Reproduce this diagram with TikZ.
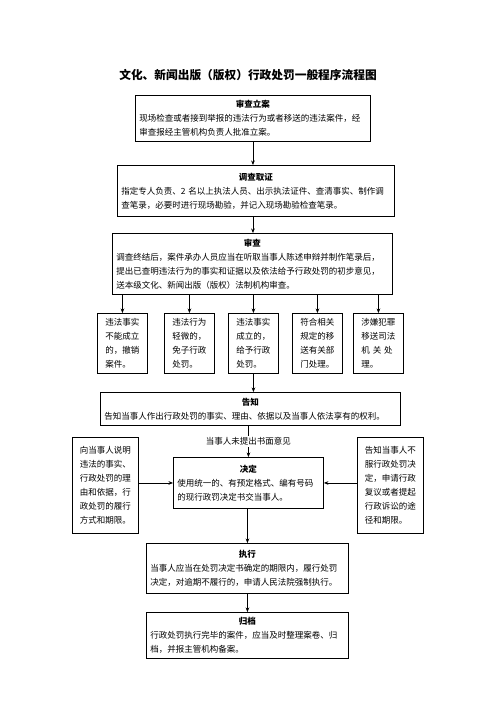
\documentclass[tikz,border=0pt]{standalone}
\usepackage{fontspec}
\setmainfont{Noto Sans CJK SC}
\usetikzlibrary{arrows.meta}

\tikzset{
  box/.style={draw, line width=0.9pt, anchor=north west, inner xsep=4pt, inner ysep=2pt,
    align=left, font=\fontsize{8.5}{14}\selectfont},
  narrow/.style={box, text width=34pt, inner xsep=8pt, minimum height=60pt},
  side/.style={box, text width=51pt, inner xsep=7.5pt, minimum height=96pt},
  flow/.style={-{Stealth[length=4.5pt,width=3.6pt]}, line width=0.6pt},
}
\newcommand{\hd}[1]{\makebox[\hsize]{\bfseries #1}}

\begin{document}
\begin{tikzpicture}[x=1pt,y=-1pt]
  \useasboundingbox (0,0) rectangle (496,702);

  % Title
  \node[font=\fontsize{11.7}{14}\selectfont\bfseries] (title) at (248,75)
    {文化、新闻出版（版权）行政处罚一般程序流程图};

  % Main stages
  \node[box, text width=227pt, minimum height=46pt] (lian) at (135,95)
    {\hd{审查立案}\\现场检查或者接到举报的违法行为或者移送的违法案件，经\\审查报经主管机构负责人批准立案。};
  \node[box, text width=269pt, minimum height=51pt] (diaocha) at (117,165)
    {\hd{调查取证}\\指定专人负责、2 名以上执法人员、出示执法证件、查清事实、制作调\\查笔录，必要时进行现场勘验，并记入现场勘验检查笔录。};
  \node[box, text width=272pt, minimum height=61pt] (shencha) at (112,233)
    {\hd{审查}\\调查终结后，案件承办人员应当在听取当事人陈述申辩并制作笔录后，\\提出已查明违法行为的事实和证据以及依法给予行政处罚的初步意见，\\送本级文化、新闻出版（版权）法制机构审查。};

  % Five outcomes
  \node[narrow] (ra) at (97,313)  {违法事实\\不能成立\\的，撤销\\案件。};
  \node[narrow] (rb) at (164,313) {违法行为\\轻微的，\\免子行政\\处罚。};
  \node[narrow] (rc) at (228,313) {违法事实\\成立的，\\给予行政\\处罚。};
  \node[narrow] (rd) at (292,313) {符合相关\\规定的移\\送有关部\\门处理。};
  \node[narrow] (re) at (353,313) {涉嫌犯罪\\移送司法\\机\ 关\ 处\\理。};

  \node[box, text width=292pt, minimum height=33pt] (gaozhi) at (100,392)
    {\hd{告知}\\告知当事人作出行政处罚的事实、理由、依据以及当事人依法享有的权利。};

  % Decision row
  \node[side] (shuoming) at (72,437)
    {向当事人说明\\违法的事实、\\行政处罚的理\\由和依据，行\\政处罚的履行\\方式和期限。};
  \node[box, text width=142pt, minimum height=51pt] (jueding) at (173,457)
    {\hd{决定}\\使用统一的、有预定格式、编有号码\\的现行政罚决定书交当事人。};
  \node[side] (fuyi) at (357,437)
    {告知当事人不\\服行政处罚决\\定，申请行政\\复议或者提起\\行政诉讼的途\\径和期限。};

  \node[box, text width=194pt, minimum height=50pt] (zhixing) at (146,543)
    {\hd{执行}\\当事人应当在处罚决定书确定的期限内，履行处罚\\决定，对逾期不履行的，申请人民法院强制执行。};
  \node[box, text width=194pt, minimum height=46pt] (guidang) at (146,612)
    {\hd{归档}\\行政处罚执行完毕的案件，应当及时整理案卷、归\\档，并报主管机构备案。};

  % Connectors
  \draw[flow] (lian.south) -- (lian.south |- diaocha.north);
  \draw[flow] (lian.south |- diaocha.south) -- (lian.south |- shencha.north);
  \foreach \n in {ra,rb,rc,rd,re}{
    \draw[flow] (shencha.south -| \n.north) -- (\n.north);
  }
  \draw[flow] (rc.south) -- (rc.south |- gaozhi.north);
  \draw[flow] (gaozhi.south -| jueding.north) --
    node[fill=white, inner sep=1.5pt, font=\fontsize{8.5}{10}\selectfont] (weiti) {当事人未提出书面意见}
    (jueding.north);
  \draw[flow] (shuoming.east |- jueding.west) -- (jueding.west);
  \draw[flow] (fuyi.west |- jueding.east) -- (jueding.east);
  \draw[flow] (jueding.south -| zhixing.north) -- (zhixing.north);
  \draw[flow] (zhixing.south) -- (guidang.north);
\end{tikzpicture}
\end{document}
